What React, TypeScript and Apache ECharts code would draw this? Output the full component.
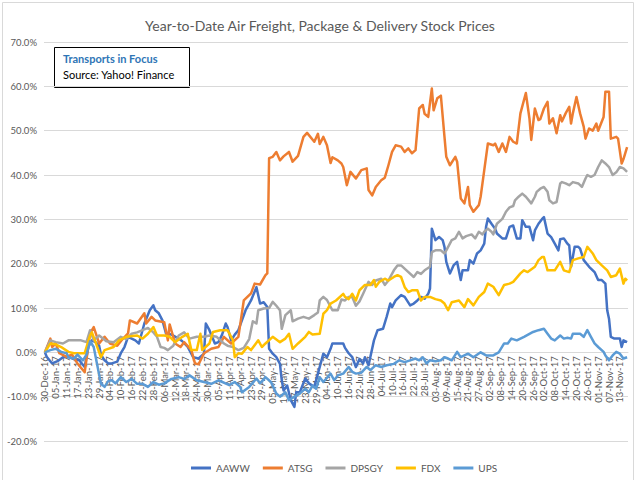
import React, { useEffect, useRef } from "react";
import * as echarts from "echarts";

// Calendar-day categories from 30-Dec-16 to 17-Nov-17 (Excel date axis, labels every 6 days)
const START_UTC = Date.UTC(2016, 11, 30);
const DAY_COUNT = 323;
const MONTHS = ["Jan", "Feb", "Mar", "Apr", "May", "Jun", "Jul", "Aug", "Sep", "Oct", "Nov", "Dec"];
const pad = (n: number) => (n < 10 ? "0" + n : String(n));
const categories: string[] = Array.from({ length: DAY_COUNT }, (_, i) => {
  const d = new Date(START_UTC + i * 86400000);
  return `${pad(d.getUTCDate())}-${MONTHS[d.getUTCMonth()]}-${String(d.getUTCFullYear()).slice(2)}`;
});

const seriesNames = ["AAWW", "ATSG", "DPSGY", "FDX", "UPS"];
const seriesColors = ["#4472C4", "#ED7D31", "#A5A5A5", "#FFC000", "#5B9BD5"];
const yTicks = { min: -20, max: 70, step: 10 };

// [days since 30-Dec-16, YTD % change]
const AAWW: [number, number][] = [
  [0, 0], [1, -1], [4, -2.5], [7, -2], [10, -1.1], [13, -1], [16, -1.5], [19, -1.8], [22, -3.3], [24, 1.2],
  [26, 2.7], [28, 2.3], [30, 1.5], [31, -0.5], [33, -1.8], [35, -2.5], [37, -2.5], [40, -2.1], [42, -0.2], [44, 1.2],
  [46, 3.5], [48, 3.1], [50, 2.7], [52, 2], [55, 6.5], [58, 9.5], [60, 10.6], [61, 9.5], [63, 8.8], [65, 7.2],
  [67, 4.2], [70, 4], [74, 3.1], [76, 2.5], [79, 1.2], [82, -1.1], [85, -1.4], [88, -0.3], [89, 6.5], [91, 5],
  [94, 2], [96, 2.3], [98, 4], [100, 6.5], [101, 5.7], [103, 2.7], [105, 4], [107, 5], [111, 9.5], [114, 11.7],
  [117, 14.7], [119, 11], [121, 11.3], [123, 10.2], [124, 0.8], [126, -0.3], [128, -1.1], [130, -2.6], [131, -6.3], [132, -8.6],
  [134, -7.5], [136, -10.8], [138, -12.3], [139, -9], [141, -9], [144, -5.9], [146, -7], [149, -7.8], [151, -4.8], [154, -0.3],
  [156, -1.1], [158, 0.8], [159, 2], [162, 2], [165, 2], [166, 1], [168, -0.2], [170, -1.1], [172, -3.3], [174, -1.5],
  [176, -2.5], [177, -1.1], [179, -2.9], [182, 2.7], [184, 5], [187, 5.3], [189, 8], [191, 11], [192, 10.2], [194, 11.7],
  [197, 12.9], [199, 12.5], [202, 10.6], [204, 11], [206, 11.7], [208, 12.5], [210, 12.1], [212, 13.2], [213, 14.4], [214, 27.9],
  [216, 25.3], [218, 26], [220, 25.3], [221, 23.8], [222, 20.4], [224, 17.8], [226, 19.6], [228, 20.4], [230, 16.3], [231, 18.5],
  [234, 18.5], [235, 20.8], [237, 20], [239, 22.3], [241, 23], [243, 24.5], [244, 28.3], [245, 30.2], [247, 29], [249, 27.9],
  [250, 26.8], [253, 25.7], [255, 25.7], [257, 28.3], [259, 28.6], [261, 25.7], [263, 25.7], [264, 29.8], [266, 28.3], [268, 28.3],
  [270, 25.3], [271, 27.5], [273, 29], [275, 30.1], [276, 30.5], [278, 26.8], [280, 26], [282, 24.5], [284, 23], [285, 25.5],
  [287, 25.7], [289, 24.5], [290, 24.1], [291, 19.3], [293, 23.8], [295, 23.8], [296, 23.4], [298, 20.8], [301, 19.3], [304, 18.1],
  [306, 16.3], [308, 16.3], [310, 15.5], [311, 9.5], [312, 7.6], [313, 3.5], [315, 3.1], [318, 3.1], [319, 1.2], [320, 2.7],
  [322, 2.3],
];

const ATSG: [number, number][] = [
  [0, 0], [3, 3.1], [4, 1.2], [6, 2], [8, -0.2], [12, -1], [15, -0.5], [18, -2.5], [22, -4.5], [25, 4.3],
  [27, 5.7], [30, 2], [33, 3.5], [36, 2], [40, 1.5], [43, 3], [46, 4.3], [47, 7.2], [51, 6.5], [55, 8.8],
  [56, 6.5], [59, 8.0], [61, 7.2], [66, 6.8], [68, 2.7], [69, 6.3], [72, 2], [75, 1.2], [77, 2.3], [81, 0.5],
  [83, -2.5], [85, -2.7], [88, -0.2], [92, 0.8], [96, 1.2], [99, 3.5], [103, 2], [107, 3.5], [110, 11.7], [114, 13.3],
  [116, 15.5], [119, 15.3], [122, 17.4], [123, 17.8], [124, 43.8], [126, 44.1], [128, 45.2], [130, 43.3], [132, 44.2], [135, 45.2],
  [137, 43], [140, 44.3], [143, 48.6], [145, 49.5], [149, 47.5], [151, 49.3], [152, 47], [154, 48.6], [156, 46.7], [158, 42.7],
  [159, 44], [162, 43.3], [164, 42.6], [165, 41.8], [167, 37.7], [169, 40.7], [172, 39.2], [175, 41.1], [178, 41.5], [179, 36.6],
  [181, 35.4], [183, 37.3], [186, 38.8], [188, 39.4], [190, 42.2], [192, 45.2], [194, 46.7], [197, 46.4], [199, 45.2], [201, 46],
  [203, 44.9], [205, 45.6], [207, 55], [209, 55.8], [210, 53.8], [212, 53.1], [214, 59.5], [215, 54.6], [217, 57.3], [219, 57.9],
  [221, 48.6], [222, 44.1], [224, 42.2], [227, 44.1], [228, 43], [230, 34.7], [232, 33.6], [234, 37.3], [235, 33.2], [237, 31.7],
  [240, 33.2], [241, 35.1], [243, 41.1], [245, 47.1], [248, 46.7], [249, 47.1], [251, 45.2], [253, 47.1], [255, 45.2], [257, 48.6],
  [259, 47.5], [261, 47.1], [263, 53.9], [266, 58.5], [268, 52.7], [269, 47.9], [271, 55], [273, 52.4], [274, 52.6], [276, 55],
  [278, 56.5], [279, 51.6], [281, 52.8], [283, 49.4], [285, 53.5], [286, 52.1], [288, 53.9], [290, 55.4], [291, 51.6], [292, 53.9],
  [294, 57.6], [296, 53.9], [298, 50.9], [299, 48.2], [301, 50.5], [303, 50], [305, 51.6], [306, 50], [309, 53.1], [310, 58.8],
  [312, 58.8], [313, 48.2], [316, 48.6], [317, 48.2], [319, 42.6], [320, 43.6], [322, 46.3],
];

const DPSGY: [number, number][] = [
  [0, 0], [3, 2.7], [6, 2.3], [10, 2], [13, 2.7], [17, 2.7], [20, 2.7], [23, 2.3], [25, 5], [27, 2.7],
  [30, 3.8], [34, 2.5], [38, 2.3], [42, 3.5], [45, 3], [48, 4.2], [51, 4.5], [54, 5], [57, 5.5], [60, 4.5],
  [62, 3.5], [64, 1.2], [66, 1], [68, 0.5], [71, 1.5], [74, 3.8], [77, 4.5], [80, 3.1], [84, 3.5], [88, 3.5],
  [91, 3.8], [95, 3.5], [99, 2], [101, 1.5], [104, 1.2], [107, 0.5], [110, 1], [113, 3], [115, 7], [117, 6.5],
  [118, 9.5], [121, 9.9], [124, 10], [126, 11.4], [128, 10.5], [130, 9.5], [131, 5.3], [133, 8.4], [136, 9.5], [137, 7],
  [140, 7.6], [143, 8.0], [146, 7.6], [149, 8.4], [151, 9], [152, 11.7], [154, 12.5], [156, 11.8], [159, 9.5], [162, 9.5],
  [164, 11.9], [166, 11.7], [168, 12.5], [170, 12.5], [172, 10.5], [174, 11.5], [176, 13.2], [179, 15.9], [181, 15.2], [183, 16.2],
  [186, 16.6], [188, 15.2], [190, 16.2], [193, 18.5], [195, 19.6], [197, 19.6], [200, 18.5], [204, 17], [206, 18.1], [208, 17.7],
  [210, 18.5], [213, 19.3], [214, 22.6], [216, 23], [219, 23], [221, 22.3], [222, 23], [225, 25.3], [227, 25.7], [229, 27.2],
  [231, 25.7], [233, 26.2], [236, 26.6], [238, 25.7], [240, 27.2], [242, 26.6], [243, 27.2], [245, 27.9], [247, 27.2], [248, 26.6],
  [250, 29], [253, 30.1], [255, 31.7], [257, 32.7], [259, 33], [260, 34.3], [262, 35.1], [264, 35.8], [266, 35.1], [269, 33.6],
  [271, 35.1], [272, 36.2], [274, 36.9], [276, 37.3], [278, 36.2], [279, 34.3], [281, 33.6], [283, 33.9], [285, 38.1], [286, 38.4],
  [288, 38.1], [290, 37.7], [292, 38.4], [295, 38.1], [297, 37.3], [299, 39.2], [300, 40], [302, 39.6], [304, 40], [306, 41.8],
  [308, 43.3], [310, 42.6], [312, 41.8], [314, 40], [316, 40.6], [318, 41.8], [320, 41.5], [322, 40.7],
];

const FDX: [number, number][] = [
  [0, 0], [3, 2], [6, 1.8], [9, 1.2], [13, 0.1], [16, -0.2], [19, -0.2], [22, -0.2], [25, 3.8], [26, 4.5],
  [28, 2.3], [31, -1.1], [33, 0.5], [38, 1.2], [41, 2.7], [45, 3.5], [51, 3.8], [54, 3.1], [57, 4.2], [60, 5.7],
  [62, 3.8], [66, 3.8], [69, 3.5], [72, 2.3], [76, 3.5], [79, 4.2], [81, 0.5], [84, 0.5], [86, 4.2], [87, 0.5],
  [91, 2], [93, 4.6], [97, 5], [101, 5], [104, 2.7], [105, -1.1], [107, -0.2], [109, -0.3], [112, 1.2], [114, 0.5],
  [118, 2.7], [120, 1.2], [122, 2], [126, 3.5], [130, 2.3], [133, 3.1], [135, 4.2], [137, 0.8], [140, 2], [144, 3.5],
  [146, 4.6], [148, 4], [152, 4.2], [154, 8.7], [156, 9.5], [158, 11], [161, 11.7], [165, 13.2], [166, 12.5], [168, 12],
  [170, 13.2], [172, 11.7], [174, 14], [177, 15.2], [180, 15.2], [182, 16.3], [183, 14.8], [185, 15.9], [188, 16.6], [190, 16.2],
  [193, 17], [195, 17.4], [197, 17], [199, 14.7], [201, 13.6], [203, 14], [206, 14], [208, 11.7], [210, 12.5], [213, 12.5],
  [216, 12], [219, 11.7], [221, 11], [223, 9.5], [225, 11.3], [229, 11.7], [232, 10.2], [234, 12], [237, 10.6], [240, 12.5],
  [243, 13.6], [245, 15.5], [248, 14.8], [251, 12.9], [254, 15.2], [257, 15.5], [259, 15.9], [263, 17.8], [265, 18.5], [267, 18.1],
  [271, 19.3], [273, 20.8], [275, 21.5], [276, 21.5], [278, 18.5], [282, 18.5], [285, 20.4], [287, 18.5], [290, 18.1], [292, 20.8],
  [295, 21.2], [298, 21.5], [300, 23.8], [303, 22.3], [305, 20.8], [308, 19.6], [311, 18.5], [313, 17], [316, 17.4], [318, 18.9],
  [320, 15.5], [321, 16.6], [322, 16.2],
];

const UPS: [number, number][] = [
  [0, 0], [3, 0.5], [6, 0.8], [9, 0.1], [12, -0.2], [13, -1.1], [16, -1.4], [18, -0.5], [21, -1.8], [23, -0.5],
  [25, 2.5], [27, 1.2], [29, -3], [31, -7.1], [33, -7.8], [35, -6.5], [37, -6.3], [39, -7], [42, -5.6], [45, -6.7],
  [48, -6], [51, -7.1], [54, -7.1], [57, -7.8], [60, -6.7], [63, -7.3], [66, -7], [70, -6], [74, -5.6], [77, -6],
  [80, -5.2], [84, -6.3], [88, -6.7], [92, -7.1], [96, -6.3], [102, -7.4], [105, -6.7], [108, -7.8], [109, -9], [113, -7.8],
  [117, -5.9], [119, -7], [122, -5.6], [125, -6.7], [128, -9.3], [130, -10], [133, -9], [135, -10.8], [138, -10], [141, -9.3],
  [144, -8.2], [146, -9], [148, -7.5], [150, -8.2], [152, -5.6], [154, -6.7], [158, -4.8], [160, -6.3], [162, -5.2], [165, -4.8],
  [168, -3.3], [170, -4.4], [172, -4.8], [175, -4.6], [178, -3.3], [180, -4], [183, -2.9], [186, -3.3], [189, -2.9], [193, -2.6],
  [196, -1.8], [199, -2.2], [202, -1.8], [205, -1.4], [207, -1.8], [209, -1.1], [211, -2.5], [213, -1.8], [216, -2], [219, -1.8],
  [221, -1.1], [223, -1.4], [225, -1.8], [228, 0.1], [230, -1.1], [234, -0.3], [237, -1.1], [241, 0], [244, -0.7], [248, -0.7],
  [251, 0], [254, 2], [256, 2], [258, 3.1], [261, 2.7], [265, 3.5], [270, 4.6], [273, 5], [276, 5.3], [278, 4.2],
  [280, 3.1], [282, 2.7], [285, 3.8], [287, 3.1], [289, 3.3], [291, 3.1], [292, 4.2], [294, 4.2], [296, 4.2], [298, 3.5],
  [300, 5], [302, 3.5], [304, 2], [306, 1.2], [309, 0.1], [310, -0.7], [312, -1.8], [314, -0.7], [316, 0.1], [318, -0.3],
  [320, -1.4], [322, -1.1],
];

const seriesPoints = [AAWW, ATSG, DPSGY, FDX, UPS];

const FONT = "Lato, 'Liberation Sans', sans-serif";

const GRID_TOP = 42;
const GRID_BOTTOM = 39;
const GRID_HEIGHT = 480 - GRID_TOP - GRID_BOTTOM;
// distance from the bottom of the plot to the 0% line, to lift the category axis there
const ZERO_OFFSET = (GRID_HEIGHT * (0 - yTicks.min)) / (yTicks.max - yTicks.min);

function toCategoryData(points: [number, number][]): (number | null)[] {
  const arr: (number | null)[] = new Array(DAY_COUNT).fill(null);
  points.forEach(([d, v]) => {
    arr[d] = v;
  });
  return arr;
}

export default function App() {
  const ref = useRef<HTMLDivElement>(null);

  useEffect(() => {
    if (!ref.current) return;
    const chart = echarts.init(ref.current, undefined, { renderer: "svg" });
    chart.setOption({
      animation: false,
      backgroundColor: "#ffffff",
      textStyle: { fontFamily: FONT },
      title: {
        text: "Year-to-Date Air Freight, Package & Delivery Stock Prices",
        left: "center",
        top: 13,
        textStyle: { fontSize: 14, fontWeight: "normal", color: "#595959", fontFamily: FONT },
      },
      grid: {
        left: 44,
        right: 12,
        top: GRID_TOP,
        bottom: GRID_BOTTOM,
        containLabel: false,
        outerBoundsMode: "none",
      },
      xAxis: {
        type: "category",
        data: categories,
        boundaryGap: true,
        position: "bottom",
        offset: -ZERO_OFFSET,
        axisLine: { onZero: false, lineStyle: { color: "#D9D9D9", width: 1 } },
        axisTick: { show: false },
        axisLabel: {
          interval: 5,
          rotate: 90,
          fontSize: 9.5,
          color: "#595959",
          margin: 4,
          fontFamily: FONT,
          overflow: "none",
          width: 120,
          hideOverlap: false,
        },
        splitLine: { show: false },
      },
      yAxis: {
        type: "value",
        min: yTicks.min,
        max: yTicks.max,
        interval: yTicks.step,
        axisLine: { show: false },
        axisTick: { show: false },
        axisLabel: {
          formatter: (v: number) => v.toFixed(1) + "%",
          fontSize: 9.5,
          color: "#595959",
          margin: 7,
          fontFamily: FONT,
        },
        splitLine: { lineStyle: { color: "#D9D9D9", width: 1 } },
      },
      legend: {
        data: seriesNames,
        top: 458,
        left: 186,
        icon: "rect",
        itemWidth: 20,
        itemHeight: 3,
        itemGap: 13,
        textStyle: { fontSize: 10, color: "#595959", fontFamily: FONT },
      },
      series: seriesNames.map((name, i) => ({
        name,
        type: "line",
        data: toCategoryData(seriesPoints[i]),
        connectNulls: true,
        showSymbol: false,
        symbol: "none",
        lineStyle: { width: 2.5, color: seriesColors[i], join: "round" },
        itemStyle: { color: seriesColors[i] },
      })),
      graphic: [
        {
          type: "rect",
          left: 0,
          top: 0,
          shape: { x: 0.5, y: 0.5, width: 631, height: 478 },
          style: { fill: "none", stroke: "#D9D9D9", lineWidth: 1 },
          silent: true,
          z: -10,
        },
        {
          type: "group",
          left: 54,
          top: 47,
          z: 100,
          children: [
            {
              type: "rect",
              shape: { x: 0.5, y: 0.5, width: 135, height: 40 },
              style: { fill: "#ffffff", stroke: "#000000", lineWidth: 1 },
            },
            {
              type: "text",
              x: 9,
              y: 6,
              style: {
                text: "Transports in Focus",
                fill: "#2E75B6",
                font: `bold 11px ${FONT}`,
              },
            },
            {
              type: "text",
              x: 9,
              y: 22,
              style: {
                text: "Source: Yahoo! Finance",
                fill: "#000000",
                font: `11px ${FONT}`,
              },
            },
          ],
        },
      ],
    });
    return () => chart.dispose();
  }, []);

  return (
    <div
      ref={ref}
      style={{ position: "fixed", left: 0, top: 0, width: 640, height: 480, background: "#ffffff" }}
    />
  );
}
